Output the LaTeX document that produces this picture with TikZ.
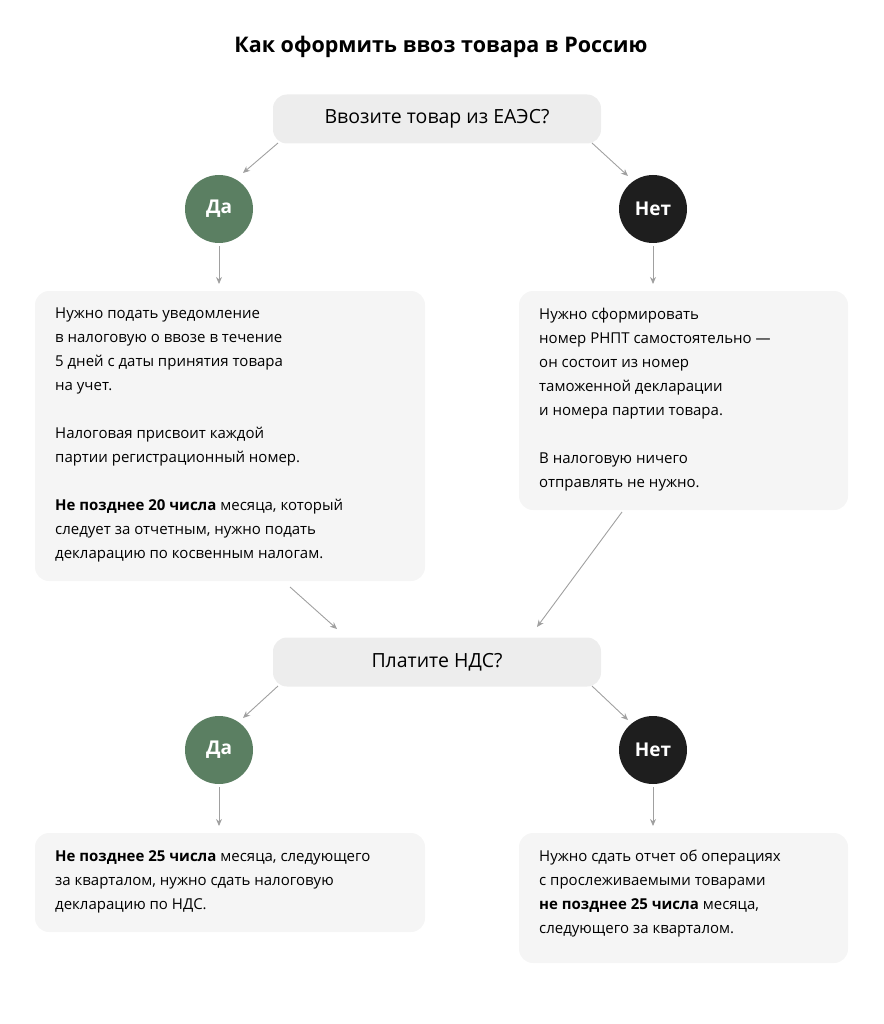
\documentclass[tikz,border=0pt]{standalone}
\usepackage{fontspec}
\setmainfont{Open Sans}
\usetikzlibrary{arrows.meta}
\definecolor{qbox}{HTML}{EDEDED}
\definecolor{tbox}{HTML}{F5F5F5}
\definecolor{yes}{HTML}{5B7F62}
\definecolor{no}{HTML}{1E1E1E}
\definecolor{arr}{HTML}{A0A0A0}
\tikzset{
 qnode/.style={fill=qbox,rounded corners=14pt,minimum width=328pt,minimum height=49pt,font=\fontsize{19.5}{24}\selectfont},
 yesc/.style={circle,fill=yes,minimum size=68pt,text=white,font=\fontsize{19}{22}\selectfont\bfseries},
 noc/.style={circle,fill=no,minimum size=68pt,text=white,font=\fontsize{19}{22}\selectfont\bfseries},
 tbx/.style={fill=tbox,rounded corners=14pt},
 txt/.style={anchor=north west,align=left,inner sep=0pt,font=\fontsize{15}{24}\selectfont},
 ar/.style={draw=arr,line width=0.9pt,-{Stealth[length=7pt,width=6pt]}}
}
\begin{document}
\begin{tikzpicture}[x=1pt,y=-1pt]
\useasboundingbox (0,0) rectangle (883,1024);
\node[font=\fontsize{21.5}{26}\selectfont\bfseries] (title) at (441,47) {Как оформить ввоз товара в Россию};
\node[qnode] (q1) at (437,119) {Ввозите товар из ЕАЭС?};
\node[yesc] (y1) at (219,209) {Да};
\node[noc] (n1) at (653,209) {Нет};
\fill[tbx] (35,291) rectangle (425,581);
\fill[tbx] (519,291) rectangle (848,510);
\node[txt] (t1) at (55,308) {Нужно подать уведомление\\в налоговую о ввозе в течение\\5 дней с даты принятия товара\\на учет.\\[24pt]Налоговая присвоит каждой\\партии регистрационный номер.\\[24pt]\textbf{Не позднее 20 числа} месяца, который\\следует за отчетным, нужно подать\\декларацию по косвенным налогам.};
\node[txt] (t2) at (539,308) {Нужно сформировать\\номер РНПТ самостоятельно —\\он состоит из номер\\таможенной декларации\\и номера партии товара.\\[24pt]В налоговую ничего\\отправлять не нужно.};
\node[qnode] (q2) at (437,662) {Платите НДС?};
\node[yesc] (y2) at (219,750) {Да};
\node[noc] (n2) at (653,750) {Нет};
\fill[tbx] (35,833) rectangle (425,932);
\fill[tbx] (519,833) rectangle (848,963);
\node[txt] (t3) at (55,850) {\textbf{Не позднее 25 числа} месяца, следующего\\за кварталом, нужно сдать налоговую\\декларацию по НДС.};
\node[txt] (t4) at (539,850) {Нужно сдать отчет об операциях\\с прослеживаемыми товарами\\\textbf{не позднее 25 числа} месяца,\\следующего за кварталом.};
\coordinate (a1s) at (278,143); \coordinate (a1e) at (243,173);
\coordinate (a2s) at (592,143); \coordinate (a2e) at (628,176);
\draw[ar] (a1s) -- (a1e); \draw[ar] (a2s) -- (a2e);
\coordinate (d1s) at (219,246); \coordinate (d1e) at (219,284);
\coordinate (d2s) at (653,246); \coordinate (d2e) at (653,284);
\draw[ar] (d1s) -- (d1e); \draw[ar] (d2s) -- (d2e);
\coordinate (m1s) at (290,587); \coordinate (m1e) at (337,629);
\coordinate (m2s) at (622,512); \coordinate (m2e) at (537,627);
\draw[ar] (m1s) -- (m1e); \draw[ar] (m2s) -- (m2e);
\coordinate (c1s) at (278,686); \coordinate (c1e) at (243,718);
\coordinate (c2s) at (592,686); \coordinate (c2e) at (628,720);
\draw[ar] (c1s) -- (c1e); \draw[ar] (c2s) -- (c2e);
\coordinate (e1s) at (219,787); \coordinate (e1e) at (219,826);
\coordinate (e2s) at (653,787); \coordinate (e2e) at (653,826);
\draw[ar] (e1s) -- (e1e); \draw[ar] (e2s) -- (e2e);
\end{tikzpicture}
\end{document}
